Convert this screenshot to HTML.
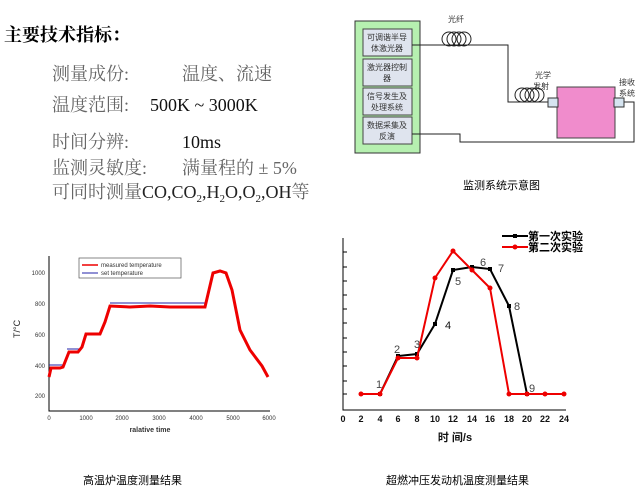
<!DOCTYPE html>
<html><head><meta charset="utf-8"><style>
body{margin:0;background:#fff;}
svg{display:block}
.cj{font-family:"Liberation Serif","Noto Serif CJK SC",serif;}
.s{font-family:"Liberation Sans","Noto Sans CJK SC",sans-serif;}
</style></head><body>
<svg width="643" height="496" viewBox="0 0 643 496" xmlns="http://www.w3.org/2000/svg">
<rect width="643" height="496" fill="#fff"/>
<!-- left text -->
<text x="4" y="41" font-size="18" font-weight="bold" font-family="'Liberation Serif','Noto Serif CJK SC',serif" fill="#000">主要技术指标：</text>
<g class="cj" font-size="18">
<text x="52" y="80" fill="#666">测量成份:</text>
<text x="182" y="80" fill="#666">温度、流速</text>
<text x="52" y="111" fill="#666">温度范围:</text>
<text x="150" y="111" fill="#111">500K ~ 3000K</text>
<text x="52" y="148" fill="#666">时间分辨:</text>
<text x="182" y="148" fill="#111">10ms</text>
<text x="52" y="174" fill="#666">监测灵敏度:</text>
<text x="182" y="174" fill="#666">满量程的 ± 5%</text>
<text x="52" y="198" fill="#666">可同时测量<tspan fill="#222">CO,CO<tspan font-size="11" dy="4">2</tspan><tspan dy="-4">,H</tspan><tspan font-size="11" dy="4">2</tspan><tspan dy="-4">O,O</tspan><tspan font-size="11" dy="4">2</tspan><tspan dy="-4">,OH</tspan></tspan>等</text>
</g>

<!-- system diagram -->
<rect x="355" y="21" width="65" height="132" fill="#b6f0b0" stroke="#333" stroke-width="1"/>
<g fill="#dfe4ee" stroke="#444" stroke-width="1">
<rect x="363" y="29" width="49" height="27"/>
<rect x="363" y="59" width="49" height="27"/>
<rect x="363" y="88" width="49" height="27"/>
<rect x="363" y="117" width="49" height="27"/>
</g>
<g class="s" font-size="8" fill="#333" text-anchor="middle">
<text x="387" y="40">可调谐半导</text><text x="387" y="51">体激光器</text>
<text x="387" y="70">激光器控制</text><text x="387" y="81">器</text>
<text x="387" y="99">信号发生及</text><text x="387" y="110">处理系统</text>
<text x="387" y="128">数据采集及</text><text x="387" y="139">反演</text>
<text x="456" y="22">光纤</text>
<text x="543" y="78">光学</text><text x="541" y="89">发射</text>
<text x="627" y="85">接收</text><text x="627" y="96">系统</text>
<text x="585" y="116">监测现场</text>
</g>
<g fill="none" stroke="#222" stroke-width="1">
<path d="M412 45 H508 V102 H548"/>
<circle cx="449" cy="39" r="7"/><circle cx="454" cy="39" r="7"/><circle cx="459" cy="39" r="7"/><circle cx="464" cy="39" r="7"/>
<circle cx="522" cy="95" r="7"/><circle cx="527" cy="95" r="7"/><circle cx="532" cy="95" r="7"/><circle cx="537" cy="95" r="7"/>
<path d="M412 134 H460 V142 H634 V102 H621"/>
</g>
<rect x="557" y="87" width="58" height="51" fill="#f08ccc" stroke="#444"/>
<rect x="548" y="98" width="10" height="9" fill="#d6e4f0" stroke="#333"/>
<rect x="614" y="98" width="10" height="9" fill="#d6e4f0" stroke="#333"/>
<text x="463" y="189" class="s" font-size="11" fill="#000">监测系统示意图</text>

<!-- chart 1 -->
<g stroke="#000" stroke-width="1" fill="none">
<path d="M49 256 V411 H270"/>
</g>
<g class="s" font-size="6" fill="#333" text-anchor="end">
<text x="45" y="275">1000</text><text x="45" y="306">800</text><text x="45" y="337">600</text><text x="45" y="368">400</text><text x="45" y="398">200</text>
</g>
<g class="s" font-size="6" fill="#333" text-anchor="middle">
<text x="49" y="420">0</text><text x="86" y="420">1000</text><text x="122" y="420">2000</text><text x="159" y="420">3000</text><text x="196" y="420">4000</text><text x="233" y="420">5000</text><text x="269" y="420">6000</text>
<text x="150" y="432" font-size="7" font-weight="bold">ralative time</text>
</g>
<text x="20" y="338" class="s" font-size="9" fill="#222" transform="rotate(-90 20 338)">T/°C</text>
<rect x="79" y="258" width="102" height="20" fill="#fff" stroke="#555" stroke-width="0.7"/>
<line x1="82" y1="265" x2="98" y2="265" stroke="#e00" stroke-width="1.5"/>
<line x1="82" y1="273" x2="98" y2="273" stroke="#22a" stroke-width="1"/>
<text x="101" y="267" class="s" font-size="6" fill="#333">measured temperature</text>
<text x="101" y="275" class="s" font-size="6" fill="#333">set temperature</text>
<g fill="none" stroke="#22a" stroke-width="1">
<path d="M49 365 H63 M67 349 H79 M86 333 H100 M110 303 H205 M212 272 H226"/>
</g>
<path d="M49 377 L51 368 L60 368 L63 367 L69 352 L78 352 L82 347 L86 334 L100 334 L105 322 L110 306 L130 307 L150 306 L170 307 L205 307 L209 290 L213 273 L220 271 L226 273 L232 290 L240 330 L250 350 L262 366 L268 377" fill="none" stroke="#e00" stroke-width="3"/>

<!-- chart 2 -->
<g stroke="#000" stroke-width="1" fill="none">
<path d="M343 238 V410 H566"/>
<path d="M343 252 h4 M343 267 h4 M343 281 h4 M343 295 h4 M343 309 h4 M343 323 h4 M343 338 h4 M343 352 h4 M343 366 h4 M343 381 h4 M343 394 h4"/>
</g>
<g class="s" font-size="9" fill="#111" text-anchor="middle" font-weight="bold">
<text x="343" y="422">0</text><text x="361" y="422">2</text><text x="380" y="422">4</text><text x="398" y="422">6</text><text x="417" y="422">8</text><text x="435" y="422">10</text><text x="453" y="422">12</text><text x="472" y="422">14</text><text x="490" y="422">16</text><text x="509" y="422">18</text><text x="527" y="422">20</text><text x="545" y="422">22</text><text x="564" y="422">24</text>
<text x="455" y="441" font-size="11">时 间/s</text>
</g>
<polyline points="380,394 398,356 417,354 435,324 453,270 472,267 490,269 509,306 527,394" fill="none" stroke="#000" stroke-width="2"/>
<g fill="#000"><rect x="378" y="392" width="4" height="4"/><rect x="396" y="354" width="4" height="4"/><rect x="415" y="352" width="4" height="4"/><rect x="433" y="322" width="4" height="4"/><rect x="451" y="268" width="4" height="4"/><rect x="470" y="265" width="4" height="4"/><rect x="488" y="267" width="4" height="4"/><rect x="507" y="304" width="4" height="4"/><rect x="525" y="392" width="4" height="4"/></g>
<polyline points="361,394 380,394 398,358 417,358 435,278 453,251 472,270 490,288 509,394 527,394 545,394 564,394" fill="none" stroke="#e00" stroke-width="2"/>
<g fill="#e00"><circle cx="361" cy="394" r="2.5"/><circle cx="380" cy="394" r="2.5"/><circle cx="398" cy="358" r="2.5"/><circle cx="417" cy="358" r="2.5"/><circle cx="435" cy="278" r="2.5"/><circle cx="453" cy="251" r="2.5"/><circle cx="472" cy="270" r="2.5"/><circle cx="490" cy="288" r="2.5"/><circle cx="509" cy="394" r="2.5"/><circle cx="527" cy="394" r="2.5"/><circle cx="545" cy="394" r="2.5"/><circle cx="564" cy="394" r="2.5"/></g>
<g class="s" font-size="11" fill="#444">
<text x="376" y="388">1</text><text x="394" y="353">2</text><text x="414" y="348">3</text><text x="445" y="329" fill="#111">4</text><text x="455" y="285">5</text><text x="480" y="266">6</text><text x="498" y="272">7</text><text x="514" y="310">8</text><text x="529" y="392">9</text>
</g>
<line x1="502" y1="236" x2="528" y2="236" stroke="#000" stroke-width="2"/><rect x="513" y="234" width="4" height="4" fill="#000"/>
<line x1="502" y1="247" x2="528" y2="247" stroke="#e00" stroke-width="2"/><circle cx="515" cy="247" r="2.5" fill="#e00"/>
<text x="528" y="240" class="s" font-size="11" font-weight="bold" fill="#000">第一次实验</text>
<text x="528" y="251" class="s" font-size="11" font-weight="bold" fill="#000">第二次实验</text>

<text x="83" y="484" class="s" font-size="11" fill="#000">高温炉温度测量结果</text>
<text x="386" y="484" class="s" font-size="11" fill="#000">超燃冲压发动机温度测量结果</text>
</svg>
</body></html>
